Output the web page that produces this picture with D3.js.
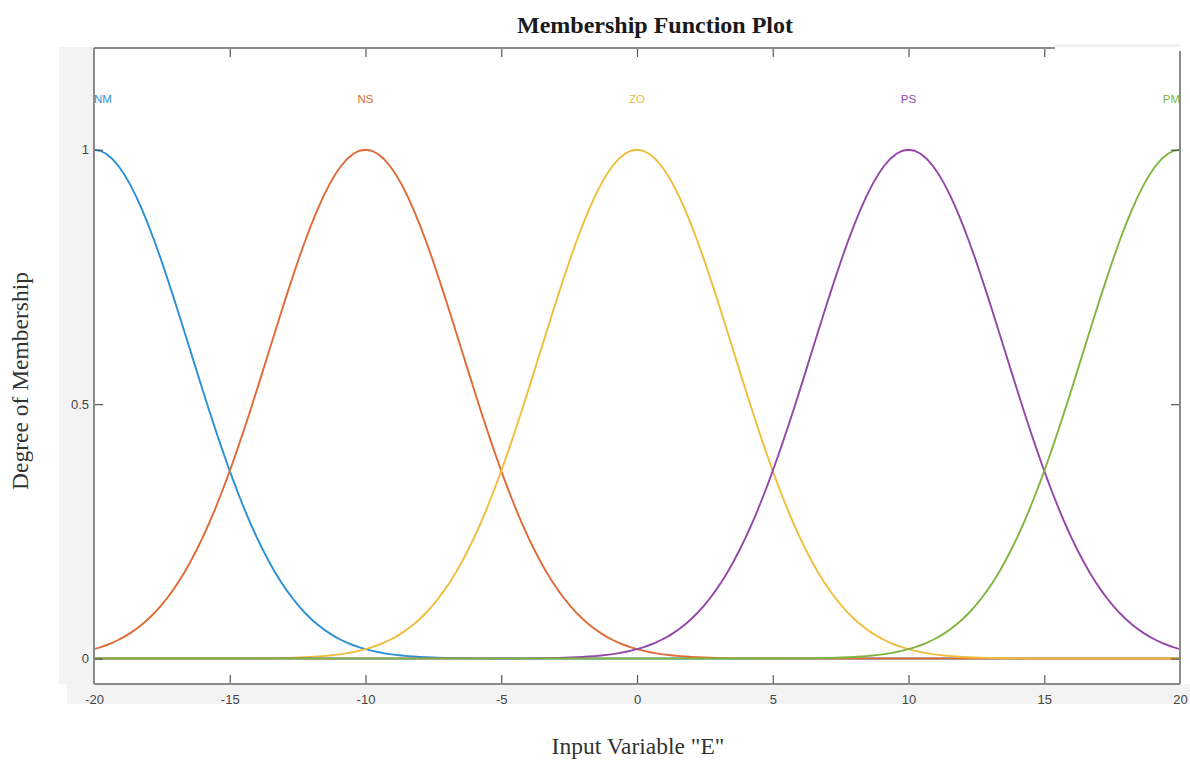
<!DOCTYPE html>
<html>
<head>
<meta charset="utf-8">
<script src="https://cdn.jsdelivr.net/npm/d3@7"></script>
<style>
  html, body { margin: 0; padding: 0; background: #ffffff; }
  svg { display: block; }
</style>
</head>
<body>
<svg id="chart" width="1190" height="760"></svg>
<script>
// ---- data: Gaussian membership functions (gaussmf parameters) ----
const mfNames   = ["NM", "NS", "ZO", "PS", "PM"];
const mfCenters = [-20, -10, 0, 10, 20];
const mfSigmas  = [3.54, 3.54, 3.54, 3.54, 3.54];
const mfColors  = ["#2b8fd6", "#e06a35", "#f0bd3c", "#9446a8", "#80b540"];
const xTicks = [-20, -15, -10, -5, 0, 5, 10, 15, 20];
const yTicks = [0, 0.5, 1];
const yTickLabels = ["0", "0.5", "1"];
const xDomain = [-20, 20];
const yDomain = [-0.05, 1.2];
const labelLevel = 1.1;
const sampleCount = 181; // evaluation points of the range, as in the MF editor

const svg = d3.select("#chart");
const L = 94, R = 1180, T = 48, B = 684;

const x = d3.scaleLinear().domain(xDomain).range([L, R]);
const y = d3.scaleLinear().domain(yDomain).range([B, T]);

// screenshot background strips
svg.append("rect").attr("x", 59).attr("y", 47).attr("width", L - 59).attr("height", B - 47).attr("fill", "#f3f3f3");
svg.append("rect").attr("x", 67).attr("y", B).attr("width", 1190 - 67).attr("height", 20).attr("fill", "#f3f3f3");
svg.append("rect").attr("x", L).attr("y", T).attr("width", R - L).attr("height", B - T).attr("fill", "#ffffff");

// sample points along the universe of discourse
const xs = d3.range(sampleCount).map(i => xDomain[0] + i * (xDomain[1] - xDomain[0]) / (sampleCount - 1));
const gauss = (v, c, s) => Math.exp(-((v - c) * (v - c)) / (2 * s * s));

const line = d3.line().x(d => x(d[0])).y(d => y(d[1]));

svg.append("clipPath").attr("id", "clip")
  .append("rect").attr("x", L).attr("y", T).attr("width", R - L).attr("height", B - T);

const plot = svg.append("g").attr("clip-path", "url(#clip)");
mfNames.forEach((name, i) => {
  const pts = xs.map(v => [v, gauss(v, mfCenters[i], mfSigmas[i])]);
  plot.append("path")
    .attr("d", line(pts))
    .attr("fill", "none")
    .attr("stroke", mfColors[i])
    .attr("stroke-width", 1.9);
});

// MF labels
mfNames.forEach((name, i) => {
  const cx = x(mfCenters[i]);
  let anchor = "middle", px = cx;
  if (mfCenters[i] <= xDomain[0]) { anchor = "start"; px = L; }
  if (mfCenters[i] >= xDomain[1]) { anchor = "end"; px = R; }
  svg.append("text")
    .attr("x", px).attr("y", y(labelLevel) + 4)
    .attr("text-anchor", anchor)
    .attr("font-family", "Liberation Sans, Arial, sans-serif")
    .attr("font-size", 11.5)
    .attr("fill", mfColors[i])
    .text(name);
});

// axes (box style, inward ticks)
const axisColor = "#8a8a8a";
const tickLen = 9;
const axBottom = d3.axisBottom(x).tickValues(xTicks).tickSize(-tickLen).tickPadding(11)
  .tickFormat(d => String(d));
const gB = svg.append("g").attr("transform", `translate(0,${B})`).call(axBottom);
const axTop = d3.axisTop(x).tickValues(xTicks).tickSize(-tickLen).tickFormat("");
const gT = svg.append("g").attr("transform", `translate(0,${T})`).call(axTop);
const axLeft = d3.axisLeft(y).tickValues(yTicks).tickSize(-tickLen).tickPadding(5)
  .tickFormat((d, i) => yTickLabels[i]);
const gL = svg.append("g").attr("transform", `translate(${L},0)`).call(axLeft);
const axRight = d3.axisRight(y).tickValues(yTicks).tickSize(-tickLen).tickFormat("");
const gR = svg.append("g").attr("transform", `translate(${R},0)`).call(axRight);

[gB, gT, gL, gR].forEach(g => {
  g.select(".domain").remove();
  g.selectAll(".tick line").attr("stroke", "#555").attr("stroke-width", 1.2);
  g.selectAll(".tick text")
    .attr("font-family", "Liberation Sans, Arial, sans-serif")
    .attr("font-size", 13)
    .attr("fill", "#444");
});
gT.selectAll(".tick").filter(d => d === xDomain[0] || d === xDomain[1]).remove();
gB.selectAll(".tick line").filter(d => d === xDomain[0] || d === xDomain[1]).remove();

// box lines
svg.append("line").attr("x1", L).attr("x2", L).attr("y1", T).attr("y2", B).attr("stroke", axisColor).attr("stroke-width", 2);
svg.append("line").attr("x1", L).attr("x2", R).attr("y1", B).attr("y2", B).attr("stroke", axisColor).attr("stroke-width", 2);
svg.append("line").attr("x1", L).attr("x2", 1055).attr("y1", T).attr("y2", T).attr("stroke", axisColor).attr("stroke-width", 2);
svg.append("line").attr("x1", R).attr("x2", R).attr("y1", 51).attr("y2", B).attr("stroke", axisColor).attr("stroke-width", 2);
svg.append("rect").attr("x", 1056).attr("y", 44).attr("width", 124).attr("height", 3).attr("fill", "#f0f0f0");

// titles
svg.append("text")
  .attr("x", 655).attr("y", 33)
  .attr("text-anchor", "middle")
  .attr("font-family", "Liberation Serif, Times New Roman, serif")
  .attr("font-weight", "bold")
  .attr("font-size", 24)
  .attr("fill", "#1a1a1a")
  .text("Membership Function Plot");

svg.append("text")
  .attr("x", 638).attr("y", 754)
  .attr("text-anchor", "middle")
  .attr("font-family", "Liberation Serif, Times New Roman, serif")
  .attr("font-size", 23.5)
  .attr("fill", "#333")
  .text('Input Variable "E"');

svg.append("text")
  .attr("transform", "translate(28,381) rotate(-90)")
  .attr("text-anchor", "middle")
  .attr("font-family", "Liberation Serif, Times New Roman, serif")
  .attr("font-size", 23.5)
  .attr("fill", "#333")
  .text("Degree of Membership");
</script>
</body>
</html>
